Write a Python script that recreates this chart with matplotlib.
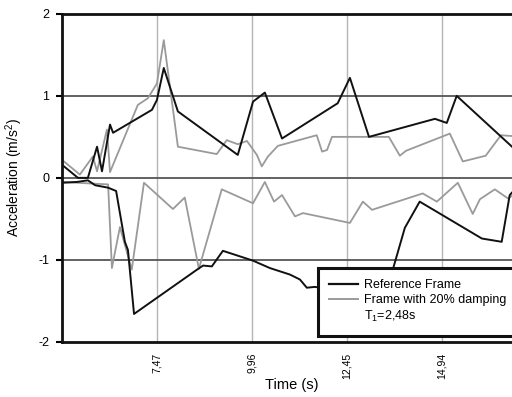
import matplotlib
matplotlib.use("Agg")
import matplotlib.pyplot as plt
from matplotlib.lines import Line2D

# Reference frame: positive envelope
ref_pos_t = [4.98, 5.40, 5.66, 5.90, 6.03, 6.24, 6.32, 7.34, 7.47, 7.65, 8.02, 9.59,
             9.99, 10.30, 10.75, 12.21, 12.53, 13.03, 14.76, 15.07, 15.33, 16.78]
ref_pos_a = [0.16, 0.00, 0.00, 0.38, 0.08, 0.65, 0.55, 0.83, 0.95, 1.34, 0.81, 0.28,
             0.93, 1.04, 0.48, 0.91, 1.22, 0.50, 0.72, 0.67, 1.00, 0.38]

# Reference frame: negative envelope
ref_neg_t = [4.98, 5.37, 5.66, 5.85, 6.19, 6.40, 6.63, 6.71, 6.87, 8.52, 8.68, 8.91,
             9.20, 9.99, 10.43, 10.96, 11.22, 11.40, 11.61, 13.45, 13.97, 14.36,
             15.99, 16.51, 16.72, 16.78]
ref_neg_a = [-0.06, -0.05, -0.03, -0.09, -0.12, -0.16, -0.78, -0.88, -1.66, -1.12, -1.07, -1.08,
             -0.89, -1.01, -1.10, -1.18, -1.24, -1.34, -1.33, -1.45, -0.61, -0.29,
             -0.74, -0.78, -0.21, -0.18]

# Damped frame: positive envelope
dmp_pos_t = [4.98, 5.45, 5.79, 5.90, 6.16, 6.24, 6.97, 7.23, 7.47, 7.65, 8.02, 9.04,
             9.30, 9.59, 9.83, 10.09, 10.22, 10.38, 10.64, 11.66, 11.80, 11.93, 12.06,
             13.55, 13.84, 14.00, 15.15, 15.49, 16.09, 16.49, 16.78]
dmp_pos_a = [0.22, 0.04, 0.26, 0.08, 0.59, 0.07, 0.89, 0.97, 1.15, 1.68, 0.38, 0.29,
             0.46, 0.41, 0.45, 0.28, 0.14, 0.26, 0.39, 0.52, 0.32, 0.34, 0.50,
             0.50, 0.27, 0.33, 0.54, 0.20, 0.27, 0.52, 0.51]

# Damped frame: negative envelope
dmp_neg_t = [4.98, 6.19, 6.29, 6.50, 6.81, 7.13, 7.89, 8.20, 8.57, 9.17, 9.99, 10.30,
             10.54, 10.75, 11.09, 11.30, 12.53, 12.87, 13.11, 14.44, 14.81, 15.36,
             15.75, 15.94, 16.33, 16.67, 16.78]
dmp_neg_a = [-0.05, -0.08, -1.10, -0.60, -1.12, -0.06, -0.38, -0.24, -1.11, -0.14, -0.31, -0.05,
             -0.29, -0.21, -0.47, -0.43, -0.55, -0.29, -0.39, -0.19, -0.29, -0.06,
             -0.44, -0.26, -0.14, -0.25, -0.22]

x_ticks = [7.47, 9.96, 12.45, 14.94]
x_tick_labels = ["7,47", "9,96", "12,45", "14,94"]
y_ticks = [-2, -1, 0, 1, 2]

plt.rcParams['font.family'] = ['Liberation Sans', 'DejaVu Sans']
plt.rcParams['mathtext.fontset'] = 'custom'
plt.rcParams['mathtext.rm'] = 'Liberation Sans'
plt.rcParams['mathtext.it'] = 'Liberation Sans'
plt.rcParams['mathtext.default'] = 'regular'

fig = plt.figure(figsize=(5.12, 3.97), dpi=100)
ax = fig.add_axes([0.121, 0.139, 0.879, 0.826])

ax.set_xlim(4.98, 16.78)
ax.set_ylim(-2, 2)

for xt in x_ticks:
    ax.axvline(xt, color='#b5b5b5', lw=1.0, zorder=1)
for yt in [-1, 0, 1]:
    ax.axhline(yt, color='#555555', lw=1.3, zorder=1)

gray = '#9a9a9a'
ax.plot(dmp_pos_t, dmp_pos_a, color=gray, lw=1.3, zorder=2)
ax.plot(dmp_neg_t, dmp_neg_a, color=gray, lw=1.3, zorder=2)
ax.plot(ref_pos_t, ref_pos_a, color='#111111', lw=1.4, zorder=3)
ax.plot(ref_neg_t, ref_neg_a, color='#111111', lw=1.4, zorder=3)

ax.set_xticks(x_ticks)
ax.set_xticklabels(x_tick_labels, rotation=90, fontsize=7.5)
ax.tick_params(axis='x', length=0, pad=8)
ax.set_yticks(y_ticks)
ax.set_yticklabels([str(v) for v in y_ticks], fontsize=9)
ax.tick_params(axis='y', length=4, width=1.5, pad=5)

for s in ['left', 'top', 'bottom']:
    ax.spines[s].set_linewidth(2.0)
    ax.spines[s].set_color('#111111')
ax.spines['right'].set_visible(False)

ax.set_ylabel("Acceleration (m/s$^2$)", fontsize=10, labelpad=10)
ax.set_xlabel("Time (s)", fontsize=10.5)
ax.xaxis.set_label_coords(0.51, -0.11)

handles = [Line2D([], [], color='#111111', lw=1.6),
           Line2D([], [], color=gray, lw=1.4),
           Line2D([], [], color='none', lw=0)]
labels = ["Reference Frame", "Frame with 20% damping", "T$_1$=2,48s"]
leg = ax.legend(handles, labels, loc='upper left', bbox_to_anchor=(0.569, 0.226),
                fontsize=9.0, frameon=True, fancybox=False, edgecolor='#111111',
                framealpha=1.0, borderpad=0.9, handlelength=2.3, handletextpad=0.45,
                labelspacing=0.25, borderaxespad=0)
leg.get_frame().set_linewidth(2.2)
leg.set_zorder(10)

fig.savefig("out.png", dpi=100)
